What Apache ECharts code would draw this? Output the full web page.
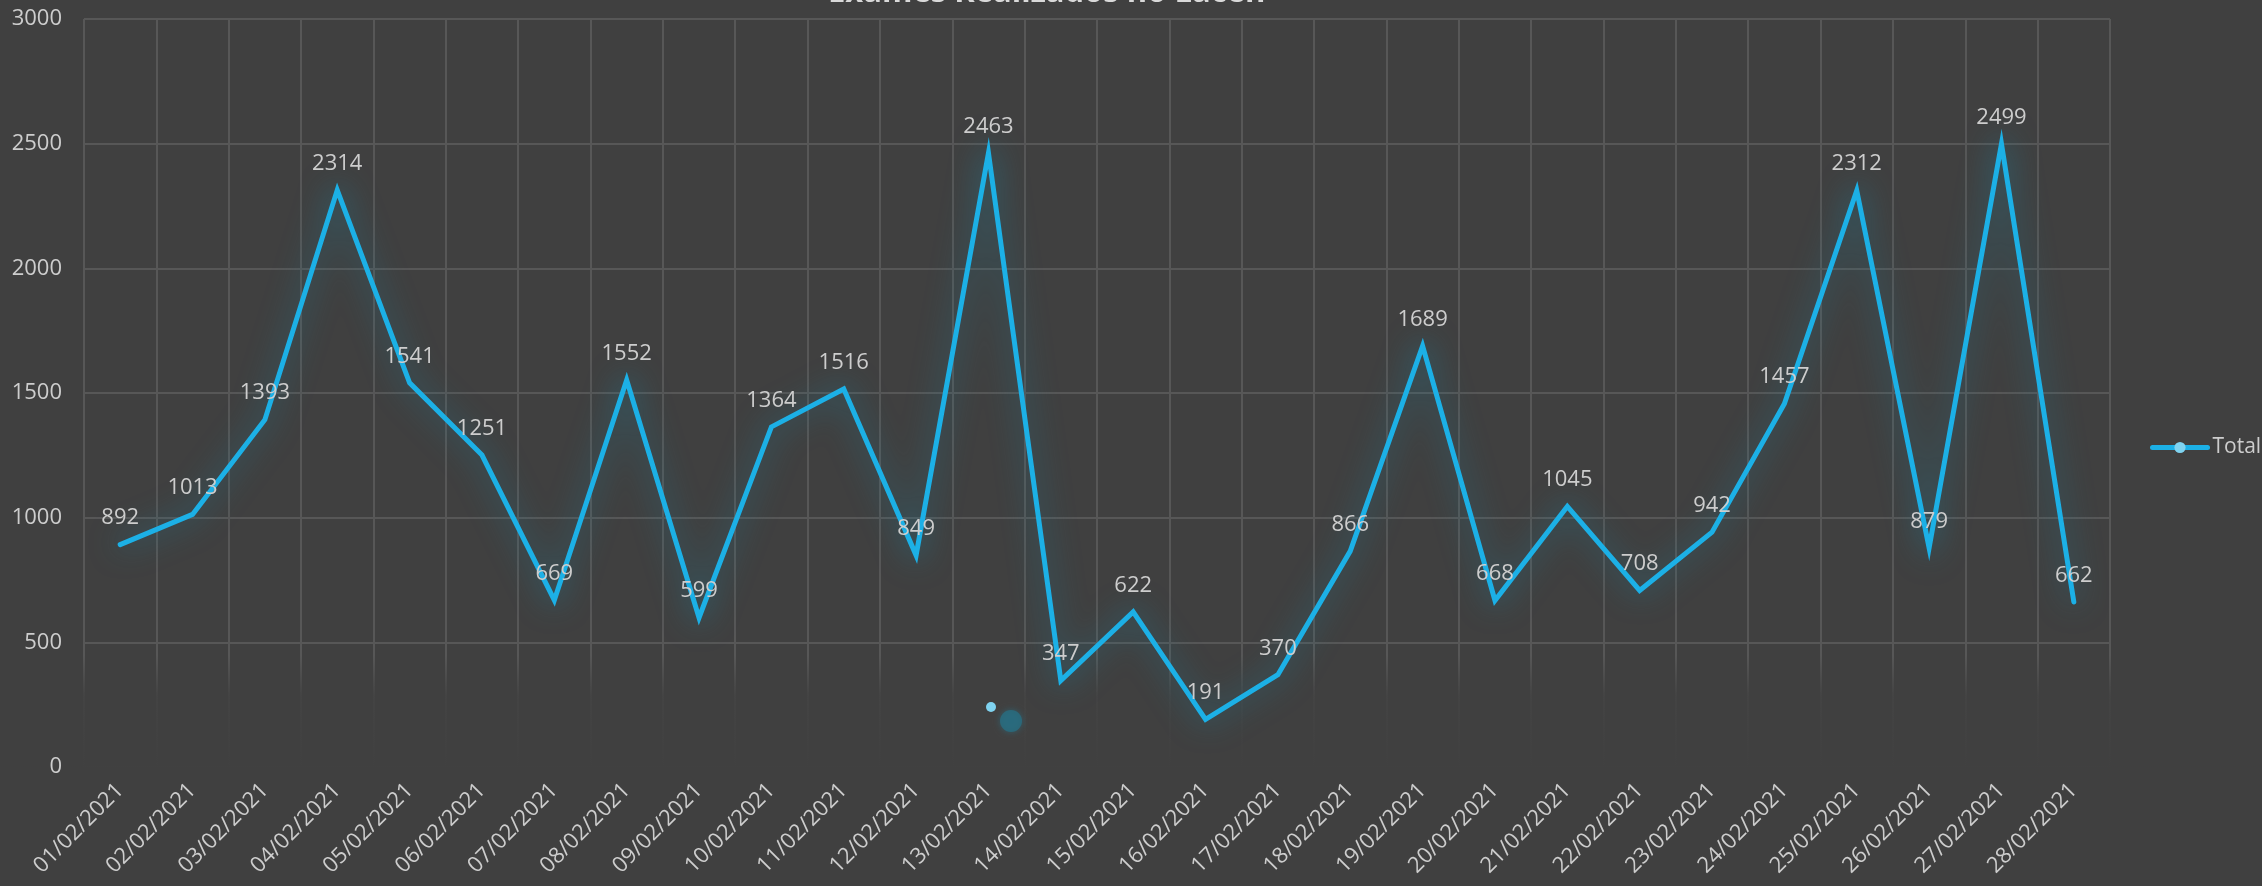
<!DOCTYPE html>
<html>
<head>
<meta charset="utf-8">
<script src="https://cdn.jsdelivr.net/npm/echarts@6/dist/echarts.min.js"></script>
<style>
  html, body { margin: 0; padding: 0; background: #404040; }
  #chart { width: 2262px; height: 886px; }
</style>
</head>
<body>
<div id="chart"></div>
<script>
// Exames realizados no Lacen, fevereiro/2021
const dias = [
  "01/02/2021", "02/02/2021", "03/02/2021", "04/02/2021", "05/02/2021", "06/02/2021", "07/02/2021",
  "08/02/2021", "09/02/2021", "10/02/2021", "11/02/2021", "12/02/2021", "13/02/2021", "14/02/2021",
  "15/02/2021", "16/02/2021", "17/02/2021", "18/02/2021", "19/02/2021", "20/02/2021", "21/02/2021",
  "22/02/2021", "23/02/2021", "24/02/2021", "25/02/2021", "26/02/2021", "27/02/2021", "28/02/2021"
];
const total = [
  892, 1013, 1393, 2314, 1541, 1251, 669,
  1552, 599, 1364, 1516, 849, 2463, 347,
  622, 191, 370, 866, 1689, 668, 1045,
  708, 942, 1457, 2312, 879, 2499, 662
];
const yTicks = [0, 500, 1000, 1500, 2000, 2500, 3000];

const txt = "#cdcdcd";
const font = "Open Sans";
const lineColor = "#1cb0e6";

const chart = echarts.init(document.getElementById("chart"));
chart.setOption({
  backgroundColor: "#404040",
  animation: false,
  title: {
    text: "Exames Realizados no Lacen",
    left: 823, top: -27,
    textStyle: { color: "#d9d9d9", fontFamily: font, fontWeight: "bold", fontSize: 31 }
  },
  grid: { left: 84, right: 152, top: 19, bottom: 119, containLabel: false },
  legend: {
    left: 2150, top: 437, padding: 0,
    itemWidth: 55, itemHeight: 14, itemGap: 0,
    lineStyle: { width: 5, color: lineColor, shadowBlur: 0 },
    itemStyle: { color: "#7fd3f0" },
    textStyle: { color: txt, fontFamily: font, fontSize: 21 },
    data: ["Total"]
  },
  xAxis: {
    type: "category",
    data: dias,
    boundaryGap: true,
    axisLine: { show: false },
    axisTick: { show: false },
    splitLine: { show: true, interval: 0, lineStyle: { color: "#575757", width: 2 } },
    axisLabel: { interval: 0, rotate: 45, margin: 20, color: txt, fontFamily: font, fontSize: 22 }
  },
  yAxis: {
    type: "value",
    min: yTicks[0], max: yTicks[yTicks.length - 1], interval: 500,
    axisLine: { show: false },
    axisTick: { show: false },
    splitLine: { lineStyle: { color: "#575757", width: 2 } },
    axisLabel: { margin: 22, color: txt, fontFamily: font, fontSize: 22, formatter: v => String(v) }
  },
  graphic: [
    // esmaecimento da grade na parte de baixo, como no original
    {
      type: "rect", z: 1, silent: true,
      shape: { x: 70, y: 655, width: 2060, height: 116 },
      style: {
        fill: new echarts.graphic.LinearGradient(0, 0, 0, 1, [
          { offset: 0, color: "rgba(64,64,64,0)" },
          { offset: 0.35, color: "rgba(64,64,64,0.85)" },
          { offset: 1, color: "rgba(64,64,64,1)" }
        ])
      }
    },
    { type: "circle", z: 3, silent: true, shape: { cx: 1011, cy: 721, r: 11 },
      style: { fill: "rgba(40,110,130,0.8)", shadowBlur: 6, shadowColor: "rgba(40,110,130,0.8)" } },
    { type: "circle", z: 3, silent: true, shape: { cx: 991, cy: 707, r: 5 }, style: { fill: "#7fd3f0" } }
  ],
  series: [{
    name: "Total",
    type: "line",
    data: total,
    z: 5,
    symbol: "circle",
    symbolSize: 1,
    showSymbol: true,
    itemStyle: { color: lineColor },
    lineStyle: {
      color: lineColor, width: 5, cap: "round", join: "miter",
      shadowColor: "rgba(30,130,160,0.85)", shadowBlur: 30
    },
    label: {
      show: true, position: "top", distance: 15,
      color: txt, fontFamily: font, fontSize: 22
    }
  }]
});
window.addEventListener("resize", () => chart.resize());
</script>
</body>
</html>
